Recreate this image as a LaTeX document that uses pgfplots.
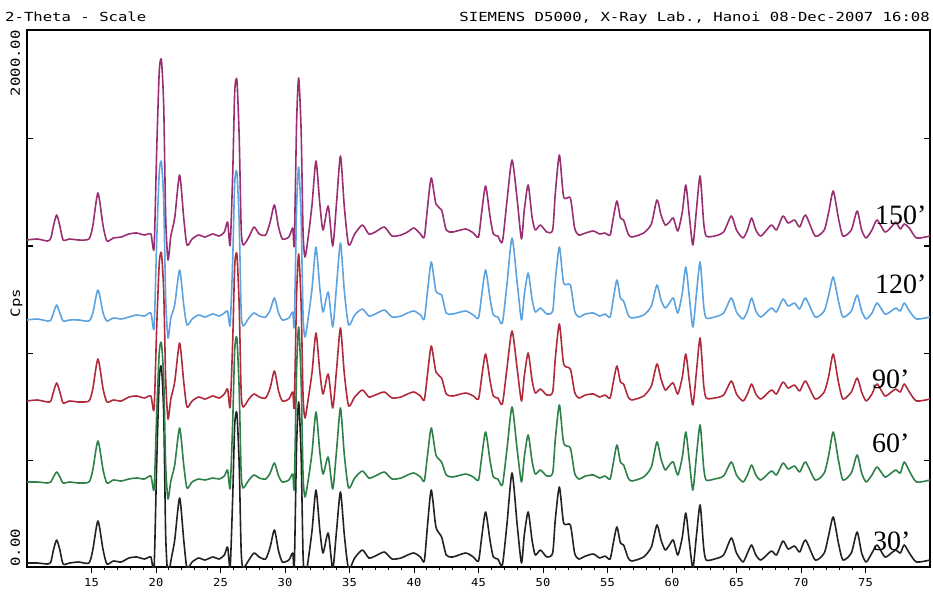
\documentclass[border=0pt]{standalone}
\usepackage{fontspec}
\usepackage{pgfplots}
\usepackage{pgfplotstable}
\pgfplotsset{compat=1.18}
\newfontfamily\plotfont[FakeStretch=1.25]{DejaVu Sans Mono}
\newfontfamily\tickfont[FakeStretch=1.1]{DejaVu Sans Mono}
\newfontfamily\lblfont{Liberation Serif}

\definecolor{cK}{HTML}{222222}
\definecolor{cG}{HTML}{2E8048}
\definecolor{cR}{HTML}{B02A3C}
\definecolor{cB}{HTML}{5DA3E0}
\definecolor{cM}{HTML}{9A2E72}

% heights above each trace's own baseline (plot units = px of the original)
% k = 30', g = 60', r = 90', b = 120', m = 150'
\pgfplotstableread{
x k g r b m
10.0 2 3 3 3 2
10.8 2 3 4 4 3
11.6 1 2 2 2 1
11.85 3 3 3 3 4
12.05 15 8 12 10 16
12.3 25 13 21 18 27
12.55 15 8 12 10 16
12.8 1 2 1 2 2
13.3 2 3 3 3 3
14.0 3 2 2 3 2
14.8 2 3 3 2 3
15.1 15 15 15 10 16
15.5 44 44 45 33 49
15.9 15 15 15 10 16
16.2 1 2 2 2 1
16.7 4 5 4 5 4
17.3 3 4 3 4 5
17.9 7 6 7 6 8
18.5 8 7 8 8 9
19.1 6 6 6 7 7
19.6 8 9 8 10 8
19.85 -3 -4 -5 -5 -6
20.05 100 70 75 80 90
20.25 185 132 140 150 170
20.42 198 142 151 161 182
20.6 150 105 112 120 135
20.75 30 20 25 25 25
20.93 -12 -14 -15 -15 -18
21.15 4 4 5 5 6
21.45 25 20 22 18 24
21.83 67 57 61 53 67
22.15 25 20 22 18 24
22.4 -3 -3 -3 -2 -3
22.8 3 3 3 4 3
23.3 7 6 7 8 7
23.8 5 5 5 6 5
24.4 8 7 8 9 8
24.9 6 6 6 7 6
25.3 10 9 10 10 10
25.55 18 15 15 12 20
25.75 -2 -3 -3 -2 -3
25.95 70 65 65 65 70
26.1 140 135 138 140 150
26.27 152 147 150 151 162
26.45 100 95 98 100 105
26.6 15 12 12 12 15
26.75 -3 -3 -3 -3 -3
27.2 5 5 5 5 5
27.6 12 10 10 10 15
28.0 8 7 7 7 8
28.5 6 6 6 6 7
28.85 18 12 16 13 20
29.18 35 22 33 25 37
29.5 14 9 13 10 15
29.8 3 3 3 3 3
30.3 5 5 5 5 5
30.6 12 11 12 11 14
30.72 -2 -2 -2 -2 -2
30.9 120 115 110 115 120
31.06 163 158 150 156 164
31.25 110 105 100 105 112
31.4 10 10 8 8 10
31.55 -14 -12 -14 -14 -15
31.8 5 5 5 5 5
32.1 35 33 32 35 38
32.4 75 73 71 76 81
32.7 35 33 32 35 38
32.95 12 11 10 11 12
33.35 32 28 30 31 36
33.7 -4 -4 -4 -4 -4
34.0 35 35 35 38 40
34.3 73 77 76 80 86
34.6 30 30 30 32 35
34.93 -4 -3 -2 -2 -3
35.4 7 7 7 8 8
36.0 15 14 14 14 17
36.5 7 7 7 7 8
37.0 9 9 9 9 10
37.7 13 13 12 13 15
38.3 6 6 6 6 6
39.0 7 7 7 7 7
39.5 10 10 10 10 10
40.0 12 12 12 12 14
40.5 8 8 8 8 8
40.8 4 4 4 4 5
41.05 40 30 30 32 35
41.34 75 57 58 61 64
41.7 38 30 32 32 38
42.14 28 23 26 28 32
42.5 10 10 10 10 12
43.0 8 8 8 9 10
44.0 12 11 11 12 13
44.6 8 8 8 8 9
45.0 4 5 5 5 5
45.25 28 28 27 28 30
45.55 53 53 50 53 56
45.9 24 24 23 24 25
46.15 8 8 8 8 8
46.5 6 6 6 6 6
46.85 0 0 0 0 0
47.2 40 35 35 38 40
47.6 92 78 73 85 82
48.0 40 35 35 40 42
48.33 2 3 3 3 3
48.55 30 28 28 28 32
48.85 53 50 51 50 57
49.15 25 24 24 24 25
49.4 10 11 11 11 12
49.8 15 15 15 15 17
50.3 8 9 9 9 10
50.75 12 12 12 12 12
50.95 45 45 45 42 48
51.27 78 80 80 76 87
51.6 42 42 40 40 45
52.12 40 37 35 38 44
52.45 12 12 12 12 14
52.77 6 6 6 6 7
53.3 9 9 9 9 9
53.9 11 10 10 10 11
54.4 7 7 7 7 8
54.8 9 9 9 9 9
55.2 6 6 6 6 7
55.45 22 22 22 24 24
55.73 38 40 38 43 41
56.0 22 23 22 25 24
56.25 20 20 20 22 22
56.6 7 7 7 8 8
56.9 4 4 4 5 5
57.8 8 8 8 8 9
58.4 18 18 18 17 18
58.83 40 43 40 38 42
59.15 25 26 25 23 27
59.47 15 15 14 15 17
59.8 20 20 18 20 20
60.1 25 23 21 25 24
60.45 10 10 10 10 11
60.8 28 28 27 30 30
61.07 52 53 50 56 57
61.35 22 23 22 25 25
61.62 -3 -5 -1 -4 -3
61.9 30 30 33 30 33
62.18 60 60 66 61 66
62.45 18 18 20 18 20
62.65 5 5 6 5 6
63.3 6 6 6 6 6
64.0 10 9 9 10 10
64.6 27 23 23 25 26
65.0 12 10 10 11 12
65.5 3 3 3 4 4
65.85 12 10 10 12 12
66.17 20 20 20 25 24
66.5 10 10 10 12 12
66.9 5 5 5 6 6
67.7 14 14 14 15 17
68.1 10 10 10 11 12
68.6 24 22 22 24 26
69.0 16 16 16 17 19
69.5 19 19 19 20 22
69.9 13 13 13 14 15
70.35 25 23 23 25 27
71.1 5 5 5 6 6
71.8 12 12 12 12 12
72.15 30 30 28 28 30
72.5 48 53 50 46 51
72.9 22 25 22 22 24
73.25 5 5 5 6 6
73.9 12 12 12 12 12
74.35 33 30 26 28 31
74.7 12 12 12 12 12
75.05 3 3 3 4 4
75.5 12 10 10 10 12
75.9 20 18 20 20 22
76.5 8 8 8 9 10
77.0 12 12 12 12 15
77.35 15 15 15 15 20
77.7 12 12 12 12 13
78.0 20 23 20 20 18
78.4 12 14 12 12 14
78.95 3 3 3 4 4
80.0 5 5 5 6 6
}\xrd

\begin{document}
\begin{tikzpicture}
\useasboundingbox (-27pt,-28pt) rectangle (906pt,567pt);
\begin{axis}[
    scale only axis,
    width=903pt, height=537pt,
    xmin=10, xmax=80,
    ymin=0, ymax=537,
    xtick={15,20,...,75},
    minor x tick num=4,
    xtick pos=bottom,
    xtick align=outside,
    ytick={107,214,321,428},
    yticklabels={},
    ytick align=inside,
    major tick length=6pt,
    minor tick length=3pt,
    tick style={black, line width=1pt},
    axis line style={line width=1.3pt},
    /pgf/number format/assume math mode=true,
    xticklabel style={font=\tickfont\fontsize{11}{11}\selectfont, yshift=-2pt},
    every axis plot/.append style={line width=1.6pt, line join=round, smooth, tension=0.4},
    clip=true,
]
\addplot[cK] table[x=x, y expr=\thisrow{k}+2] {\xrd};
\addplot[cG] table[x=x, y expr=\thisrow{g}+82] {\xrd};
\addplot[cR] table[x=x, y expr=\thisrow{r}+163] {\xrd};
\addplot[cB] table[x=x, y expr=\thisrow{b}+244] {\xrd};
\addplot[cM] table[x=x, y expr=\thisrow{m}+325] {\xrd};
\pgfplotsinvokeforeach{15,20,...,75}{
  \draw[line width=1pt] (axis cs:#1,537) -- ++(0,-6pt);
}
\end{axis}
\begin{scope}[every node/.style={inner sep=0pt}]
\node[anchor=base west, font=\plotfont\fontsize{12.5}{12.5}\selectfont] at (-22pt,545.5pt) {2-Theta - Scale};
\node[anchor=base east, font=\plotfont\fontsize{12.5}{12.5}\selectfont] at (903pt,545.5pt) {SIEMENS D5000, X-Ray Lab., Hanoi 08-Dec-2007 16:08};
\node[anchor=base west, rotate=90, font=\plotfont\fontsize{12.5}{12.5}\selectfont] at (-7pt,0pt) {0.00};
\node[anchor=base east, rotate=90, font=\plotfont\fontsize{12.5}{12.5}\selectfont] at (-7pt,537pt) {2000.00};
\node[anchor=base, rotate=90, font=\plotfont\fontsize{12.5}{12.5}\selectfont] at (-7pt,264pt) {Cps};
\node[anchor=base west, font=\lblfont\fontsize{28}{28}\selectfont] at (848pt,342pt) {150’};
\node[anchor=base west, font=\lblfont\fontsize{28}{28}\selectfont] at (848pt,274pt) {120’};
\node[anchor=base west, font=\lblfont\fontsize{28}{28}\selectfont] at (845pt,179pt) {90’};
\node[anchor=base west, font=\lblfont\fontsize{28}{28}\selectfont] at (845pt,115pt) {60’};
\node[anchor=base west, font=\lblfont\fontsize{28}{28}\selectfont] at (846pt,17pt) {30’};
\end{scope}
\end{tikzpicture}
\end{document}
